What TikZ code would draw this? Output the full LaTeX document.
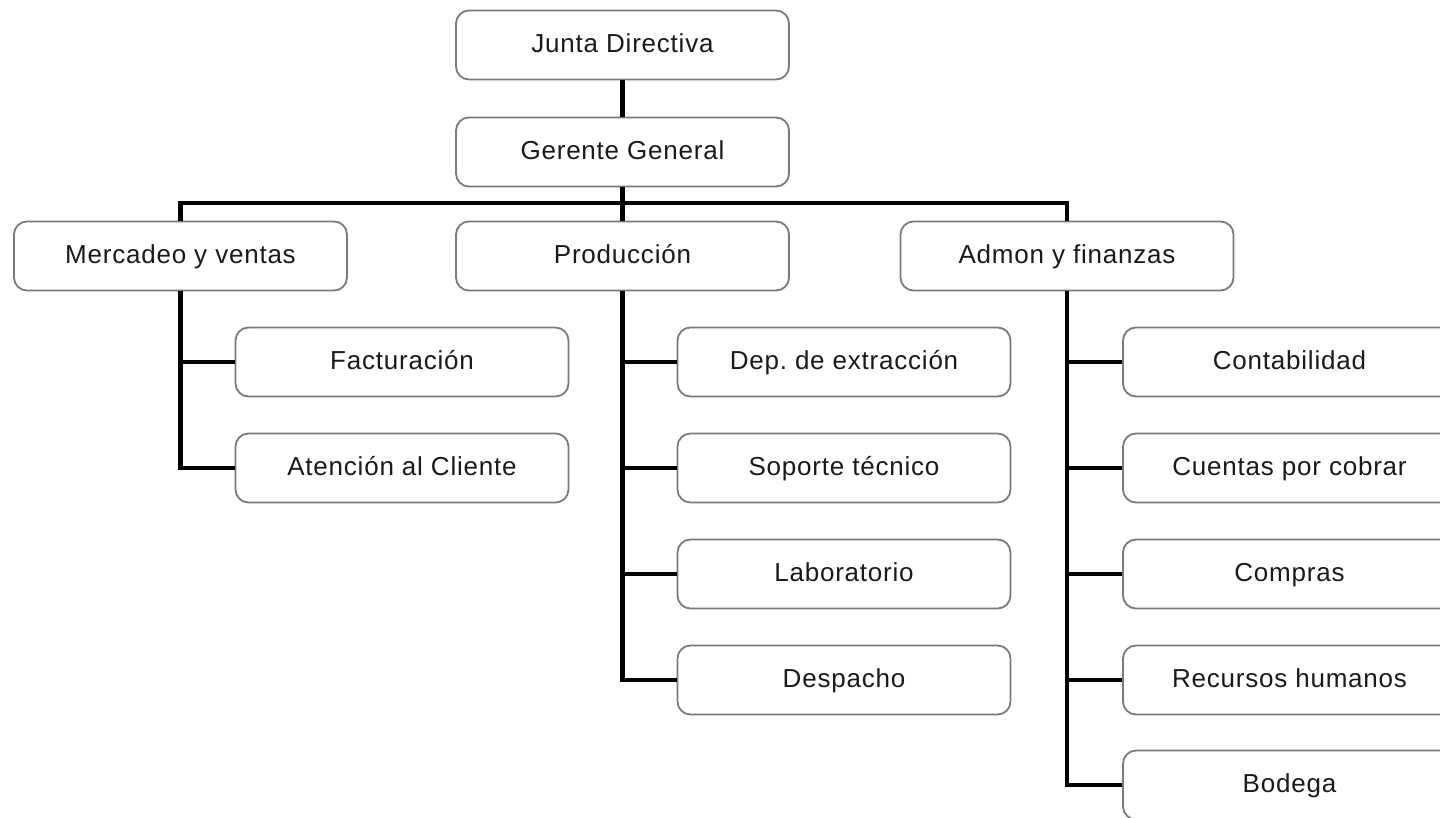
\documentclass[tikz,border=0pt]{standalone}
\usepackage{fontspec}
\setmainfont{Liberation Sans}[LetterSpace=3]
\frenchspacing
\definecolor{boxline}{HTML}{7A7A7A}
\definecolor{txt}{HTML}{1A1A1A}
\tikzset{
  unit/.style={draw=boxline, line width=1.8pt, fill=white, rounded corners=13pt,
    minimum width=333pt, minimum height=69pt, inner sep=0pt,
    text=txt, font=\fontsize{26}{31}\selectfont\frenchspacing, text height=19pt, text depth=4pt},
  link/.style={line width=4.5pt, black, line join=miter}
}
\begin{document}
\begin{tikzpicture}[x=1pt,y=-1pt]
\useasboundingbox (0,0) rectangle (1440,818);
\clip (0,0) rectangle (1440,818);
% nodes
\node[unit] (junta) at (622.5,45) {Junta Directiva};
\node[unit] (ger) at (622.5,152) {Gerente General};
\node[unit] (merc) at (180.5,256) {Mercadeo y ventas};
\node[unit] (prod) at (622.5,256) {Producción};
\node[unit] (adm) at (1067,256) {Admon y finanzas};
\node[unit] (fact) at (402,362) {Facturación};
\node[unit] (aten) at (402,468) {Atención al Cliente};
\node[unit] (dep) at (844,362) {Dep. de extracción};
\node[unit] (sop) at (844,468) {Soporte técnico};
\node[unit] (lab) at (844,574) {Laboratorio};
\node[unit] (desp) at (844,680) {Despacho};
\node[unit] (cont) at (1289.5,362) {Contabilidad};
\node[unit] (cuen) at (1289.5,468) {Cuentas por cobrar};
\node[unit] (comp) at (1289.5,574) {Compras};
\node[unit] (rec) at (1289.5,680) {Recursos humanos};
\node[unit] (bod) at (1289.5,785) {Bodega};
\coordinate (bus) at (622.5,203);
% connectors
\draw[link] (junta.south) -- (ger.north);
\draw[link] (ger.south) -- (prod.north);
\draw[link] (merc.north) |- (bus) -| (adm.north);
\foreach \c in {fact,aten} \draw[link] (merc.south) |- (\c.west);
\foreach \c in {dep,sop,lab,desp} \draw[link] (prod.south) |- (\c.west);
\foreach \c in {cont,cuen,comp,rec,bod} \draw[link] (adm.south) |- (\c.west);
\end{tikzpicture}
\end{document}
